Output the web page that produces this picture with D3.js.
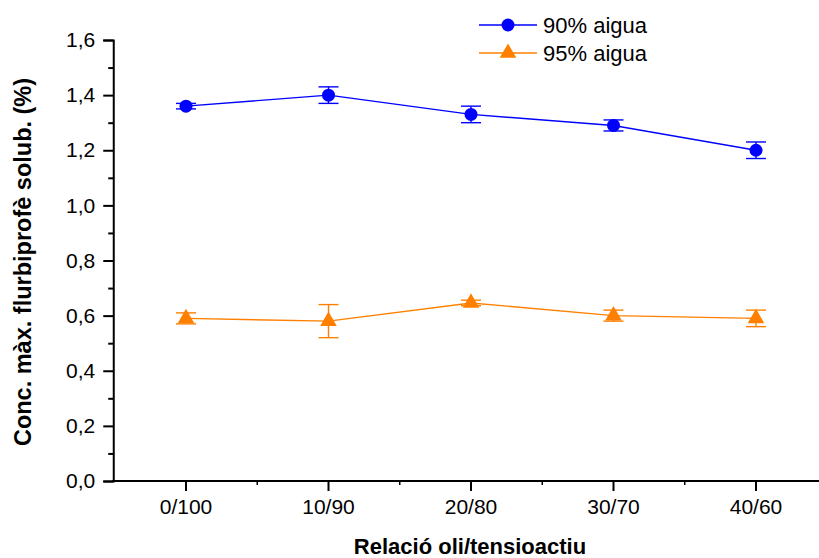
<!DOCTYPE html>
<html>
<head>
<meta charset="utf-8">
<script src="https://cdn.jsdelivr.net/npm/d3@7"></script>
<style>
  html, body { margin: 0; padding: 0; background: #fff; }
  svg { display: block; font-family: "Liberation Sans", Arial, Helvetica, sans-serif; }
</style>
</head>
<body>
<svg id="chart" width="819" height="558"></svg>
<script>
// Categories: oil / surfactant ratio
const categories = ["0/100", "10/90", "20/80", "30/70", "40/60"];

// Maximum solubilised flurbiprofen concentration (%) and its error
const series90 = [1.36, 1.40, 1.33, 1.29, 1.20];
const err90    = [0.01, 0.03, 0.03, 0.02, 0.03];
const series95 = [0.59, 0.58, 0.646, 0.60, 0.59];
const err95    = [0.02, 0.06, 0.01, 0.02, 0.03];

const yTicks = [0, 0.2, 0.4, 0.6, 0.8, 1.0, 1.2, 1.4, 1.6];
const seriesNames = ["90% aigua", "95% aigua"];
const colors = ["#0000ff", "#ff8000"];

const svg = d3.select("#chart");

const x = d3.scaleLinear().domain([-0.5, 4.5]).range([114.75, 827.25]);
const y = d3.scaleLinear().domain([0, 1.6]).range([481, 40]);

const fmt = d => d3.format(".1f")(d).replace(".", ",");

// Y axis
const yAxisG = svg.append("g").attr("transform", `translate(${x(-0.5) - 1.5},0)`);
yAxisG.call(d3.axisLeft(y).tickValues(yTicks).tickFormat(fmt).tickSize(10).tickPadding(8));
yAxisG.append("g").call(d3.axisLeft(y).tickValues(d3.range(0.1, 1.6, 0.2)).tickFormat("").tickSize(5));
yAxisG.selectAll(".domain").attr("stroke", "#000").attr("stroke-width", 2);
yAxisG.selectAll(".tick line").attr("stroke", "#000").attr("stroke-width", 2);
yAxisG.selectAll("text").attr("font-size", 21).attr("fill", "#000")
  .attr("font-family", "Liberation Sans, Arial, sans-serif");
yAxisG.selectAll("g > .domain").filter((d, i) => i > 0).remove();

// X axis
const xAxisG = svg.append("g").attr("transform", `translate(0,${y(0)})`);
xAxisG.append("line")
  .attr("x1", x(-0.5) - 2.5).attr("x2", 819)
  .attr("stroke", "#000").attr("stroke-width", 2);
const xt = xAxisG.selectAll(".xtick").data(categories).join("g")
  .attr("transform", (d, i) => `translate(${x(i)},0)`);
xt.append("line").attr("y2", 10).attr("stroke", "#000").attr("stroke-width", 2);
xt.append("text").attr("y", 33).attr("text-anchor", "middle")
  .attr("font-size", 21).text(d => d);
xAxisG.selectAll(".xminor").data(d3.range(0.5, 4.5, 1)).join("line")
  .attr("x1", d => x(d)).attr("x2", d => x(d))
  .attr("y1", 0).attr("y2", 4)
  .attr("stroke", "#000").attr("stroke-width", 1.5);

// Axis titles
svg.append("text")
  .attr("x", 470).attr("y", 554)
  .attr("text-anchor", "middle")
  .attr("font-weight", "bold").attr("font-size", 22)
  .text("Relació oli/tensioactiu");

svg.append("text")
  .attr("transform", `translate(31,262) rotate(-90)`)
  .attr("text-anchor", "middle")
  .attr("font-weight", "bold").attr("font-size", 23.5)
  .text("Conc. màx. flurbiprofè solub. (%)");

const triangle = d3.symbol().type(d3.symbolTriangle).size(120);

function drawSeries(vals, errs, color, shape) {
  const g = svg.append("g");
  const pts = vals.map((v, i) => ({ i, v, e: errs[i] }));
  g.append("path")
    .datum(pts)
    .attr("fill", "none").attr("stroke", color).attr("stroke-width", 1.4)
    .attr("d", d3.line().x(d => x(d.i)).y(d => y(d.v)));
  const eb = g.selectAll(".eb").data(pts).join("g");
  eb.append("line")
    .attr("x1", d => x(d.i)).attr("x2", d => x(d.i))
    .attr("y1", d => y(d.v + d.e)).attr("y2", d => y(d.v - d.e))
    .attr("stroke", color).attr("stroke-width", 1.4);
  [1, -1].forEach(s => {
    eb.append("line")
      .attr("x1", d => x(d.i) - 10).attr("x2", d => x(d.i) + 10)
      .attr("y1", d => y(d.v + s * d.e)).attr("y2", d => y(d.v + s * d.e))
      .attr("stroke", color).attr("stroke-width", 1.4);
  });
  if (shape === "circle") {
    g.selectAll(".m").data(pts).join("circle")
      .attr("cx", d => x(d.i)).attr("cy", d => y(d.v)).attr("r", 6.5)
      .attr("fill", color);
  } else {
    g.selectAll(".m").data(pts).join("path")
      .attr("transform", d => `translate(${x(d.i)},${y(d.v)})`)
      .attr("d", triangle).attr("fill", color);
  }
}

drawSeries(series90, err90, colors[0], "circle");
drawSeries(series95, err95, colors[1], "triangle");

// Legend
const legend = svg.append("g");
seriesNames.forEach((name, k) => {
  const ly = 25 + k * 28;
  legend.append("line").attr("x1", 479).attr("x2", 537).attr("y1", ly).attr("y2", ly)
    .attr("stroke", colors[k]).attr("stroke-width", 1.4);
  if (k === 0) {
    legend.append("circle").attr("cx", 508).attr("cy", ly).attr("r", 6.5).attr("fill", colors[k]);
  } else {
    legend.append("path").attr("transform", `translate(508,${ly})`).attr("d", triangle).attr("fill", colors[k]);
  }
  legend.append("text").attr("x", 543).attr("y", ly + 8).attr("font-size", 22).text(name);
});
</script>
</body>
</html>
